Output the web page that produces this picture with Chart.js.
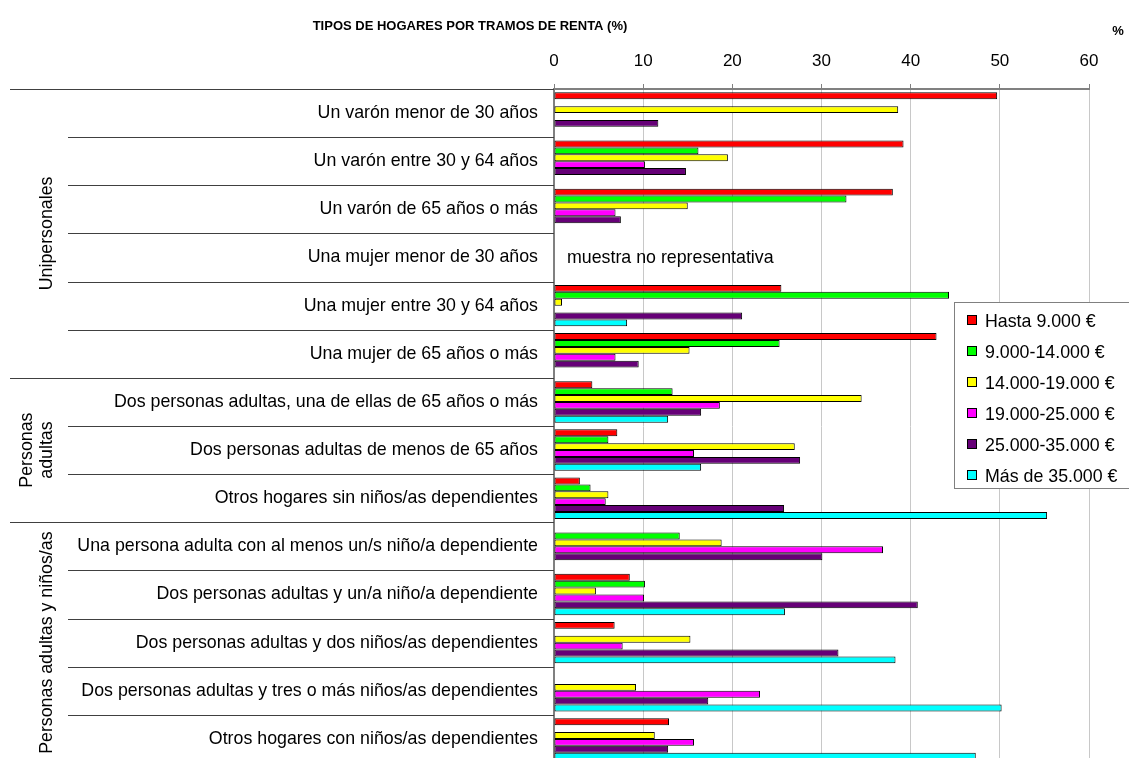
<!DOCTYPE html>
<html>
<head>
<meta charset="utf-8">
<script src="https://cdn.jsdelivr.net/npm/chart.js@4.4.1/dist/chart.umd.min.js"></script>
<style>
  html, body { margin: 0; padding: 0; background: #fff; overflow: hidden; }
  #wrap { position: relative; width: 1129px; height: 766px; }
</style>
</head>
<body>
<div id="wrap"><canvas id="grafico" width="1129" height="766"></canvas></div>
<script>
const categorias = [
  "Un varón menor de 30 años",
  "Un varón entre 30 y 64 años",
  "Un varón de 65 años o más",
  "Una mujer menor de 30 años",
  "Una mujer entre 30 y 64 años",
  "Una mujer de 65 años o más",
  "Dos personas adultas, una de ellas de 65 años o más",
  "Dos personas adultas de menos de 65 años",
  "Otros hogares sin niños/as dependientes",
  "Una persona adulta con al menos un/s niño/a dependiente",
  "Dos personas adultas y un/a niño/a dependiente",
  "Dos personas adultas y dos niños/as dependientes",
  "Dos personas adultas y tres o más niños/as dependientes",
  "Otros hogares con niños/as dependientes"
];

// grupos: [texto (líneas), primera categoría, última categoría]
const grupos = [
  [["Unipersonales"], 0, 5],
  [["Personas", "adultas"], 6, 8],
  [["Personas adultas y niños/as"], 9, 13]
];

const tramos = ["Hasta 9.000 €", "9.000-14.000 €", "14.000-19.000 €", "19.000-25.000 €", "25.000-35.000 €", "Más de 35.000 €"];
const colores = ["#ff0000", "#00ff00", "#ffff00", "#ff00ff", "#660077", "#00ffff"];

const hasta9000   = [49.7, 39.2, 38.0, null, 25.5, 42.9, 4.3, 7.1, 2.9, null, 8.5, 6.8, null, 12.9];
const de9a14      = [null, 16.2, 32.8, null, 44.3, 25.3, 13.3, 6.1, 4.1, 14.1, 10.2, null, null, null];
const de14a19     = [38.6, 19.5, 15.0, null, 0.9, 15.2, 34.5, 27.0, 6.1, 18.8, 4.7, 15.3, 9.2, 11.3];
const de19a25     = [null, 10.2, 6.9, null, null, 6.9, 18.6, 15.7, 5.8, 36.9, 10.1, 7.7, 23.1, 15.7];
const de25a35     = [11.7, 14.8, 7.5, null, 21.1, 9.5, 16.5, 27.6, 25.8, 30.1, 40.8, 31.9, 17.3, 12.8];
const mas35       = [null, null, null, null, 8.2, null, 12.8, 16.5, 55.3, null, 25.9, 38.3, 50.2, 47.3];

const series = [hasta9000, de9a14, de14a19, de19a25, de25a35, mas35];

const textoSinDatos = "muestra no representativa";
const indiceSinDatos = 3;

const FUENTE = "'Liberation Sans', Arial, sans-serif";
const TAM = 17.8;

const decoracion = {
  id: "decoracion",
  afterDraw(chart) {
    const ctx = chart.ctx;
    const area = chart.chartArea;
    const ys = chart.scales.y;
    const xs = chart.scales.x;
    ctx.save();

    // título
    ctx.fillStyle = "#000";
    ctx.font = "bold 13px " + FUENTE;
    ctx.textAlign = "center";
    ctx.textBaseline = "middle";
    ctx.fillText("TIPOS DE HOGARES POR TRAMOS DE RENTA (%)", 470, 26);
    ctx.fillText("%", 1118, 31);

    // separadores de categorías y grupos
    ctx.strokeStyle = "#404040";
    ctx.lineWidth = 1;
    const inicioGrupo = grupos.map(g => g[1]);
    ctx.beginPath();
    ctx.moveTo(10, Math.round(area.top) + 0.5);
    ctx.lineTo(area.left, Math.round(area.top) + 0.5);
    for (let i = 1; i < categorias.length; i++) {
      const y = Math.round((ys.getPixelForValue(i - 1) + ys.getPixelForValue(i)) / 2) + 0.5;
      const x0 = inicioGrupo.includes(i) ? 10 : 68;
      ctx.moveTo(x0, y);
      ctx.lineTo(area.left, y);
    }
    ctx.stroke();

    // etiquetas de grupo (verticales)
    ctx.font = TAM + "px " + FUENTE;
    ctx.textAlign = "center";
    grupos.forEach(([lineas, a, b]) => {
      const yTop = a === 0 ? area.top : (ys.getPixelForValue(a - 1) + ys.getPixelForValue(a)) / 2;
      const yBot = b === categorias.length - 1 ? area.bottom : (ys.getPixelForValue(b) + ys.getPixelForValue(b + 1)) / 2;
      const yc = (yTop + yBot) / 2;
      const xc = 47;
      ctx.save();
      ctx.translate(xc, yc);
      ctx.rotate(-Math.PI / 2);
      const n = lineas.length;
      lineas.forEach((t, k) => {
        ctx.fillText(t, 0, (k - (n - 1)) * 20);
      });
      ctx.restore();
    });

    // texto sin datos
    ctx.textAlign = "left";
    ctx.fillText(textoSinDatos, xs.getPixelForValue(0) + 13, ys.getPixelForValue(indiceSinDatos) + 1);

    // leyenda
    const lx = 954, ly = 302, lh = 186;
    ctx.fillStyle = "#fff";
    ctx.fillRect(lx, ly, 200, lh);
    ctx.strokeStyle = "#808080";
    ctx.strokeRect(lx + 0.5, ly + 0.5, 200, lh);
    tramos.forEach((t, k) => {
      const yc = 321 + k * 31;
      ctx.fillStyle = colores[k];
      ctx.fillRect(967.5, yc - 5.5, 9, 9);
      ctx.strokeStyle = "#000";
      ctx.strokeRect(967.5, yc - 5.5, 9, 9);
      ctx.fillStyle = "#000";
      ctx.textBaseline = "middle";
      ctx.fillText(t, 985, yc + 1);
    });
    ctx.restore();
  }
};

new Chart(document.getElementById("grafico"), {
  type: "bar",
  data: {
    labels: categorias,
    datasets: series.map((d, k) => ({
      label: tramos[k],
      data: d,
      backgroundColor: colores[k],
      borderColor: "#000",
      borderWidth: 1,
      borderSkipped: false,
      categoryPercentage: 0.86,
      barPercentage: 1.0
    }))
  },
  options: {
    indexAxis: "y",
    responsive: false,
    animation: false,
    devicePixelRatio: 1,
    layout: { padding: { top: 0, right: 40, bottom: 3, left: 0 } },
    plugins: {
      legend: { display: false },
      title: { display: false },
      tooltip: { enabled: false }
    },
    scales: {
      x: {
        position: "top",
        min: 0,
        max: 60,
        ticks: { stepSize: 10, color: "#000", font: { family: FUENTE, size: 17 }, padding: 12 },
        grid: { color: "#c8c8c8", lineWidth: 1, tickLength: 5, tickColor: "#808080" },
        border: { color: "#808080", width: 2 },
        afterFit: (s) => { s.height = 89; s.paddingLeft = 0; s.paddingRight = 0; }
      },
      y: {
        ticks: { color: "#000", font: { family: FUENTE, size: TAM }, padding: 8 },
        grid: { display: false },
        border: { display: true, color: "#808080", width: 2 },
        afterFit: (s) => { s.width = 554; s.paddingTop = 0; s.paddingBottom = 0; }
      }
    }
  },
  plugins: [decoracion]
});
</script>
</body>
</html>
